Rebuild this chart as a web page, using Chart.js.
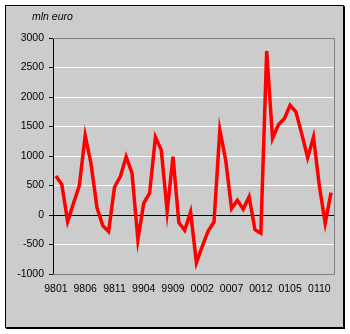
<!DOCTYPE html>
<html>
<head>
<meta charset="utf-8">
<script src="https://cdn.jsdelivr.net/npm/chart.js@4/dist/chart.umd.min.js"></script>
<style>
  html, body { margin: 0; padding: 0; background: #fff; }
  #wrap { position: relative; width: 350px; height: 334px; }
</style>
</head>
<body>
<div id="wrap"><canvas id="chart" width="350" height="334"></canvas></div>
<script>
/* ── Data ── */
const MONTHS = [
  '9801','9802','9803','9804','9805','9806','9807','9808','9809','9810','9811','9812',
  '9901','9902','9903','9904','9905','9906','9907','9908','9909','9910','9911','9912',
  '0001','0002','0003','0004','0005','0006','0007','0008','0009','0010','0011','0012',
  '0101','0102','0103','0104','0105','0106','0107','0108','0109','0110','0111','0112'
];
const BALANCE = [
  660, 520, -110, 200, 500, 1350, 870, 130, -180, -280, 470, 650,
  990, 710, -420, 200, 370, 1320, 1100, 60, 990, -130, -260, 50,
  -810, -530, -270, -120, 1440, 930, 110, 250, 100, 310, -250, -310,
  2780, 1300, 1530, 1630, 1860, 1750, 1370, 970, 1320, 490, -140, 380
];
const Y_TICKS = [-1000, -500, 0, 500, 1000, 1500, 2000, 2500, 3000];
const UNIT = 'mln euro';

const FONT = 'Liberation Sans, Arial, sans-serif';
const BG   = '#cccccc';

/* ── Frame, plot background and unit label ── */
const framePlugin = {
  id: 'frame',
  beforeDraw(chart) {
    const { ctx } = chart;
    ctx.save();
    ctx.fillStyle = '#fff';
    ctx.fillRect(0, 0, chart.width, chart.height);
    ctx.fillStyle = BG;
    ctx.fillRect(5, 5, 338, 322);
    ctx.strokeStyle = '#000';
    ctx.lineWidth = 1;
    ctx.strokeRect(5.5, 5.5, 338, 322);
    ctx.fillStyle = '#000';
    ctx.fillRect(344, 6, 1, 323);
    ctx.fillRect(6, 328, 339, 1);

    ctx.font = 'italic 10.5px ' + FONT;
    ctx.textAlign = 'left';
    ctx.textBaseline = 'alphabetic';
    ctx.fillText(UNIT, 32, 20);
    ctx.restore();
  },
  beforeDatasetsDraw(chart) {
    const { ctx, chartArea: a } = chart;
    ctx.save();
    ctx.strokeStyle = '#808080';
    ctx.lineWidth = 1;
    ctx.beginPath();
    ctx.moveTo(a.left, Math.round(a.top) + 0.5);
    ctx.lineTo(Math.round(a.right) + 0.5, Math.round(a.top) + 0.5);
    ctx.lineTo(Math.round(a.right) + 0.5, Math.round(a.bottom) + 0.5);
    ctx.lineTo(a.left, Math.round(a.bottom) + 0.5);
    ctx.stroke();
    ctx.restore();
  },
};

new Chart(document.getElementById('chart'), {
  type: 'line',
  plugins: [framePlugin],
  data: {
    labels: MONTHS,
    datasets: [{
      data:        BALANCE,
      borderColor: '#ff0000',
      borderWidth: 3.5,
      pointRadius: 0,
      tension:     0,
      fill:        false,
    }],
  },
  options: {
    responsive: false,
    animation:  false,
    layout: { padding: { left: 0, right: 16, top: 38, bottom: 0 } },
    plugins: {
      legend:  { display: false },
      tooltip: { enabled: false },
    },
    scales: {
      x: {
        type:   'category',
        offset: true,
        grid:   { display: false, drawTicks: false },
        border: { display: false },
        ticks: {
          autoSkip:    false,
          maxRotation: 0,
          padding:     9,
          color:       '#000',
          font:        { family: FONT, size: 10.5 },
          callback:    (v, i) => (i % 5 === 0 ? MONTHS[i] : ''),
        },
        afterFit: s => { s.height = 60; },
      },
      y: {
        min: Y_TICKS[0],
        max: Y_TICKS[Y_TICKS.length - 1],
        afterBuildTicks: s => { s.ticks = Y_TICKS.map(v => ({ value: v })); },
        grid: {
          color: c => {
            const v = c.tick && c.tick.value;
            if (v === 0) return '#000';
            if (v === 3000 || v === -1000) return '#808080';
            return '#fff';
          },
          tickColor:  '#000',
          tickLength: 4,
          lineWidth:  1,
        },
        border: { color: '#000', width: 1 },
        ticks: {
          padding:  5,
          color:    '#000',
          font:     { family: FONT, size: 10.5 },
          callback: v => String(v),
        },
        afterFit: s => { s.width = 53; },
      },
    },
  },
});
</script>
</body>
</html>
